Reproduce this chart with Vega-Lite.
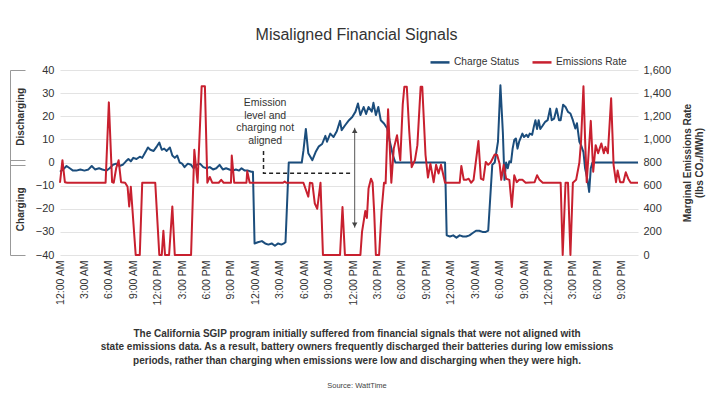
{
  "$schema": "https://vega.github.io/schema/vega-lite/v6.json",
  "width": 578,
  "height": 185,
  "padding": {"left": 9, "top": 26, "right": 5, "bottom": 5},
  "config": {"font": "Liberation Sans", "view": {"stroke": null}, "axis": {"labelColor": "#333", "titleColor": "#333"}},
  "title": {
    "text": ["The California SGIP program initially suffered from financial signals that were not aligned with", "state emissions data. As a result, battery owners frequently discharged their batteries during low emissions", "periods, rather than charging when emissions were low and discharging when they were high."],
    "subtitle": "Source: WattTime",
    "orient": "bottom", "anchor": "middle", "frame": "bounds",
    "fontSize": 10, "fontWeight": "bold", "lineHeight": 13.5, "color": "#333", "offset": 24,
    "subtitleFontSize": 7.5, "subtitleColor": "#444", "subtitlePadding": 16
  },
  "datasets": {
    "charge": [
      {"hour":0.0,"status":-4},{"hour":0.4,"status":-3},{"hour":0.8,"status":-1.5},{"hour":1.2,"status":-2.5},{"hour":1.6,"status":-3.5},{"hour":2.0,"status":-3.5},{"hour":2.5,"status":-3},{"hour":3.0,"status":-3.5},{"hour":3.5,"status":-3},{"hour":3.9,"status":-1.5},{"hour":4.3,"status":-3},{"hour":4.8,"status":-2.5},{"hour":5.2,"status":-3},{"hour":5.7,"status":-3.5},{"hour":6.1,"status":-2.5},{"hour":6.5,"status":-1},{"hour":6.9,"status":-0.5},{"hour":7.3,"status":-1.5},{"hour":7.7,"status":-1},{"hour":8.1,"status":0.5},{"hour":8.4,"status":1.5},{"hour":8.7,"status":0.5},{"hour":9.0,"status":2},{"hour":9.4,"status":1.5},{"hour":9.8,"status":2.5},{"hour":10.1,"status":2},{"hour":10.5,"status":4.5},{"hour":10.8,"status":6.5},{"hour":11.1,"status":5.5},{"hour":11.5,"status":5},{"hour":11.9,"status":7},{"hour":12.2,"status":8.6},{"hour":12.5,"status":5.5},{"hour":12.8,"status":6},{"hour":13.1,"status":5},{"hour":13.5,"status":6.5},{"hour":13.8,"status":3},{"hour":14.1,"status":2},{"hour":14.4,"status":3},{"hour":14.7,"status":0},{"hour":15.0,"status":-0.5},{"hour":15.3,"status":-2},{"hour":15.7,"status":-0.5},{"hour":16.1,"status":-1},{"hour":16.4,"status":-2.5},{"hour":16.8,"status":-1},{"hour":17.2,"status":-0.5},{"hour":17.6,"status":-2},{"hour":18.0,"status":-2.5},{"hour":18.4,"status":-2},{"hour":18.8,"status":-3},{"hour":19.2,"status":-2.5},{"hour":19.6,"status":-1},{"hour":20.0,"status":-3},{"hour":20.4,"status":-2.5},{"hour":20.8,"status":-3},{"hour":21.2,"status":-3.5},{"hour":21.6,"status":-3},{"hour":22.0,"status":-3.5},{"hour":22.3,"status":-2.5},{"hour":22.7,"status":-3.5},{"hour":23.1,"status":-3.5},{"hour":23.5,"status":-4},{"hour":23.7,"status":-4},
      {"hour":23.9,"status":-35},{"hour":24.3,"status":-34.5},{"hour":24.8,"status":-34},{"hour":25.2,"status":-35},{"hour":25.6,"status":-35.5},{"hour":26.0,"status":-35},{"hour":26.4,"status":-36},{"hour":26.8,"status":-35},{"hour":27.2,"status":-35.5},{"hour":27.5,"status":-35},{"hour":27.7,"status":-34.5},{"hour":28.1,"status":0},{"hour":29.7,"status":0},{"hour":29.9,"status":5},{"hour":30.2,"status":14.5},{"hour":30.5,"status":4},{"hour":31.0,"status":1},{"hour":31.4,"status":4.5},{"hour":31.8,"status":7},{"hour":32.2,"status":8},{"hour":32.6,"status":11.5},{"hour":32.8,"status":9},{"hour":33.2,"status":12.5},{"hour":33.6,"status":11},{"hour":34.0,"status":13.5},{"hour":34.4,"status":18},{"hour":34.6,"status":14},{"hour":35.0,"status":16},{"hour":35.5,"status":18.3},{"hour":35.9,"status":19.7},{"hour":36.3,"status":22},{"hour":36.6,"status":25.5},{"hour":36.9,"status":20.5},{"hour":37.3,"status":24},{"hour":37.6,"status":21},{"hour":37.9,"status":24},{"hour":38.3,"status":22},{"hour":38.5,"status":25.8},{"hour":38.8,"status":20.5},{"hour":39.1,"status":24},{"hour":39.4,"status":18.3},{"hour":39.8,"status":16.9},{"hour":40.2,"status":14.7},{"hour":40.5,"status":9.3},{"hour":40.9,"status":3},{"hour":41.2,"status":0},{"hour":47.3,"status":0},
      {"hour":47.5,"status":-31.5},{"hour":47.9,"status":-32},{"hour":48.3,"status":-31.5},{"hour":48.7,"status":-32.5},{"hour":49.1,"status":-31.5},{"hour":49.5,"status":-32},{"hour":49.9,"status":-32},{"hour":50.3,"status":-31.5},{"hour":50.7,"status":-30.5},{"hour":51.1,"status":-29.5},{"hour":51.5,"status":-29.5},{"hour":51.9,"status":-30},{"hour":52.3,"status":-30},{"hour":52.6,"status":-29.5},{"hour":53.1,"status":-1},{"hour":53.4,"status":0},{"hour":53.8,"status":9},{"hour":54.1,"status":33.4},{"hour":54.4,"status":13},{"hour":54.6,"status":-7.5},{"hour":54.8,"status":0},{"hour":55.0,"status":-2.5},{"hour":55.2,"status":0.5},{"hour":55.4,"status":0},{"hour":55.6,"status":6},{"hour":55.8,"status":9.7},{"hour":56.0,"status":10.4},{"hour":56.2,"status":6},{"hour":56.4,"status":9},{"hour":56.8,"status":12.5},{"hour":57.0,"status":11},{"hour":57.3,"status":12},{"hour":57.5,"status":11},{"hour":57.7,"status":12.5},{"hour":58.0,"status":12},{"hour":58.2,"status":15.4},{"hour":58.4,"status":18.3},{"hour":58.6,"status":14.5},{"hour":58.8,"status":18.3},{"hour":59.0,"status":14.5},{"hour":59.3,"status":16},{"hour":59.6,"status":17.6},{"hour":59.9,"status":18.3},{"hour":60.2,"status":23.3},{"hour":60.4,"status":18.3},{"hour":60.7,"status":19},{"hour":61.0,"status":23.3},{"hour":61.3,"status":18.3},{"hour":61.5,"status":18.3},{"hour":61.8,"status":25},{"hour":62.1,"status":24},{"hour":62.4,"status":21.9},{"hour":62.7,"status":21.2},{"hour":63.0,"status":18.3},{"hour":63.3,"status":14.7},{"hour":63.5,"status":17},{"hour":63.8,"status":8.9},{"hour":64.0,"status":7.5},{"hour":64.3,"status":4.5},{"hour":64.5,"status":-2.5},{"hour":64.8,"status":-7.5},{"hour":65.0,"status":-12.7},{"hour":65.2,"status":-2.5},{"hour":65.4,"status":0},{"hour":71.0,"status":0}
    ],
    "emis": [
      {"hour":0.0,"rate":625},{"hour":0.3,"rate":820},{"hour":0.6,"rate":630},{"hour":0.9,"rate":625},{"hour":5.6,"rate":625},{"hour":6.0,"rate":1320},{"hour":6.4,"rate":630},{"hour":6.6,"rate":625},{"hour":6.9,"rate":750},{"hour":7.2,"rate":820},{"hour":7.5,"rate":630},{"hour":8.0,"rate":625},{"hour":8.3,"rate":590},{"hour":8.5,"rate":420},{"hour":8.7,"rate":590},{"hour":9.3,"rate":0},{"hour":9.8,"rate":0},{"hour":10.1,"rate":625},{"hour":11.7,"rate":625},{"hour":12.2,"rate":0},{"hour":12.5,"rate":0},{"hour":12.7,"rate":210},{"hour":12.9,"rate":0},{"hour":13.4,"rate":0},{"hour":13.8,"rate":420},{"hour":14.1,"rate":0},{"hour":16.1,"rate":0},{"hour":16.5,"rate":910},{"hour":16.9,"rate":625},{"hour":17.4,"rate":1460},{"hour":17.8,"rate":1460},{"hour":18.1,"rate":625},{"hour":18.4,"rate":675},{"hour":18.7,"rate":625},{"hour":19.5,"rate":625},{"hour":19.8,"rate":650},{"hour":20.1,"rate":625},{"hour":21.0,"rate":625},{"hour":21.1,"rate":860},{"hour":21.4,"rate":625},{"hour":22.9,"rate":625},{"hour":23.0,"rate":725},{"hour":23.3,"rate":625},
      {"hour":27.4,"rate":625},{"hour":27.6,"rate":635},{"hour":27.8,"rate":625},{"hour":29.9,"rate":625},{"hour":30.5,"rate":505},{"hour":30.7,"rate":625},{"hour":31.0,"rate":620},{"hour":31.3,"rate":445},{"hour":31.6,"rate":400},{"hour":32.0,"rate":625},{"hour":32.3,"rate":0},{"hour":34.4,"rate":0},{"hour":34.7,"rate":415},{"hour":35.0,"rate":0},{"hour":36.9,"rate":0},{"hour":37.1,"rate":200},{"hour":37.5,"rate":380},{"hour":37.7,"rate":320},{"hour":37.9,"rate":575},{"hour":38.2,"rate":660},{"hour":38.4,"rate":625},{"hour":38.6,"rate":360},{"hour":38.8,"rate":0},{"hour":39.2,"rate":0},{"hour":39.5,"rate":380},{"hour":39.8,"rate":625},{"hour":40.0,"rate":620},{"hour":40.3,"rate":1260},{"hour":40.7,"rate":625},{"hour":41.0,"rate":920},{"hour":41.4,"rate":1035},{"hour":41.8,"rate":820},{"hour":42.1,"rate":1300},{"hour":42.3,"rate":1455},{"hour":42.6,"rate":1455},{"hour":42.9,"rate":1070},{"hour":43.2,"rate":760},{"hour":43.6,"rate":820},{"hour":43.9,"rate":950},{"hour":44.3,"rate":1455},{"hour":44.5,"rate":1455},{"hour":44.9,"rate":865},{"hour":45.2,"rate":670},{"hour":45.5,"rate":790},{"hour":45.9,"rate":630},{"hour":46.2,"rate":780},{"hour":46.5,"rate":705},{"hour":46.8,"rate":780},{"hour":47.3,"rate":625},
      {"hour":49.1,"rate":625},{"hour":49.3,"rate":770},{"hour":49.6,"rate":650},{"hour":49.9,"rate":650},{"hour":50.2,"rate":660},{"hour":50.5,"rate":625},{"hour":50.8,"rate":650},{"hour":51.4,"rate":985},{"hour":51.7,"rate":660},{"hour":52.0,"rate":650},{"hour":52.3,"rate":805},{"hour":52.6,"rate":780},{"hour":52.9,"rate":800},{"hour":53.4,"rate":870},{"hour":53.7,"rate":865},{"hour":54.0,"rate":790},{"hour":54.2,"rate":650},{"hour":54.5,"rate":780},{"hour":54.8,"rate":660},{"hour":55.2,"rate":650},{"hour":55.5,"rate":415},{"hour":55.8,"rate":690},{"hour":56.1,"rate":630},{"hour":56.4,"rate":650},{"hour":56.8,"rate":650},{"hour":57.2,"rate":625},{"hour":58.3,"rate":630},{"hour":58.6,"rate":690},{"hour":58.9,"rate":650},{"hour":59.3,"rate":625},{"hour":61.5,"rate":625},{"hour":61.75,"rate":0},{"hour":62.1,"rate":625},{"hour":62.4,"rate":625},{"hour":62.7,"rate":0},{"hour":63.0,"rate":625},{"hour":63.4,"rate":650},{"hour":63.8,"rate":800},{"hour":64.0,"rate":980},{"hour":64.3,"rate":1460},{"hour":64.5,"rate":1000},{"hour":64.7,"rate":630},{"hour":65.2,"rate":1160},{"hour":65.5,"rate":720},{"hour":65.8,"rate":950},{"hour":66.1,"rate":880},{"hour":66.5,"rate":965},{"hour":66.8,"rate":880},{"hour":67.0,"rate":935},{"hour":67.3,"rate":880},{"hour":67.7,"rate":1355},{"hour":68.0,"rate":780},{"hour":68.3,"rate":630},{"hour":68.5,"rate":730},{"hour":68.8,"rate":630},{"hour":69.2,"rate":630},{"hour":69.5,"rate":715},{"hour":69.8,"rate":660},{"hour":70.1,"rate":625},{"hour":71.0,"rate":625}
    ],
    "note": [{"hour": 25.2, "y": 28, "label": "Emission\nlevel and\ncharging not\naligned"}],
    "dash": [{"i": 1, "hour": 25, "y": 5}, {"i": 2, "hour": 25, "y": -4.7}, {"i": 3, "hour": 35.8, "y": -4.7}],
    "arrow": [{"hour": 36.2, "top": 15, "bottom": -28.2}],
    "heads": [{"hour": 36.2, "y": 13.8, "dir": "up"}, {"hour": 36.2, "y": -27, "dir": "down"}],
    "bracket": [{"v": -40}, {"v": 40}]
  },
  "layer": [
    {
      "data": {"name": "charge"},
      "mark": {"type": "line", "strokeWidth": 2, "strokeJoin": "round"},
      "encoding": {
        "x": {"field": "hour", "type": "quantitative", "scale": {"domain": [0, 71], "nice": false, "zero": false},
          "axis": {"values": [0,3,6,9,12,15,18,21,24,27,30,33,36,39,42,45,48,51,54,57,60,63,66,69],
            "labelExpr": "['12:00 AM','3:00 AM','6:00 AM','9:00 AM','12:00 PM','3:00 PM','6:00 PM','9:00 PM'][(datum.value/3)%8]",
            "labelAngle": -90, "labelFontSize": 10.5, "labelPadding": 5, "grid": false, "ticks": false, "domain": false, "title": null, "labelOverlap": false}},
        "y": {"field": "status", "type": "quantitative", "scale": {"domain": [-40, 40], "nice": false},
          "axis": {"values": [-40,-30,-20,-10,0,10,20,30,40], "grid": true, "gridColor": "#e3e3e3", "ticks": false, "domain": false, "title": null, "labelFontSize": 11, "labelPadding": 6}},
        "color": {"datum": "Charge Status", "type": "nominal",
          "scale": {"domain": ["Charge Status", "Emissions Rate"], "range": ["#1b4d7c", "#c8202f"]},
          "legend": {"orient": "none", "legendX": 369, "legendY": -19, "direction": "horizontal", "title": null, "symbolType": "stroke", "symbolStrokeWidth": 2.5, "symbolSize": 361, "labelFontSize": 10.2, "labelOffset": 3, "labelColor": "#333", "columnPadding": 7}}
      }
    },
    {
      "data": {"name": "emis"},
      "mark": {"type": "line", "strokeWidth": 2, "strokeJoin": "round"},
      "encoding": {
        "x": {"field": "hour", "type": "quantitative", "axis": null},
        "y": {"field": "rate", "type": "quantitative", "scale": {"domain": [0, 1600], "nice": false},
          "axis": {"orient": "right", "values": [0,200,400,600,800,1000,1200,1400,1600], "format": ",.0f", "grid": false, "ticks": false, "domain": false, "labelFontSize": 11, "labelPadding": 5,
            "title": ["Marginal Emissions Rate", "(lbs CO₂/MWh)"], "titleFontSize": 10, "titleFontWeight": "bold", "titleAngle": -90, "titlePadding": 10}},
        "color": {"datum": "Emissions Rate", "type": "nominal"}
      }
    },
    {
      "data": {"name": "bracket"},
      "mark": {"type": "point", "opacity": 0},
      "encoding": {
        "y": {"field": "v", "type": "quantitative", "scale": {"domain": [-40, 40], "nice": false},
          "axis": {"orient": "left", "offset": 50, "values": [-40, -20, -1, 1, 20, 40],
            "labelExpr": "datum.value == 20 ? 'Discharging' : datum.value == -20 ? 'Charging' : ''",
            "tickSize": -15, "tickOpacity": {"condition": {"test": "abs(datum.value) == 20", "value": 0}, "value": 1},
            "tickColor": "#999", "domainColor": "#999", "grid": false, "labelAngle": -90, "labelAlign": "center", "labelBaseline": "middle",
            "labelPadding": 5, "labelFontWeight": "bold", "labelFontSize": 10, "labelColor": "#333", "title": null, "labelOverlap": false}}
      }
    },
    {
      "data": {"name": "note"},
      "mark": {"type": "text", "lineBreak": "\n", "fontSize": 10.5, "lineHeight": 12.8, "baseline": "top", "align": "center", "color": "#333"},
      "encoding": {
        "x": {"field": "hour", "type": "quantitative",
          "axis": {"orient": "top", "title": "Misaligned Financial Signals", "titleX": 296, "labels": false, "ticks": false, "domain": false, "grid": false, "titleFontSize": 16, "titleFontWeight": "normal", "titlePadding": 28, "titleColor": "#333"}},
        "y": {"field": "y", "type": "quantitative", "scale": {"domain": [-40, 40], "nice": false}, "axis": null},
        "text": {"field": "label"}
      }
    },
    {
      "data": {"name": "dash"},
      "mark": {"type": "line", "strokeDash": [4, 3], "strokeWidth": 1.5, "color": "#222"},
      "encoding": {
        "x": {"field": "hour", "type": "quantitative", "axis": null},
        "y": {"field": "y", "type": "quantitative", "scale": {"domain": [-40, 40], "nice": false}, "axis": null},
        "order": {"field": "i"}
      }
    },
    {
      "data": {"name": "arrow"},
      "mark": {"type": "rule", "strokeWidth": 1, "color": "#555"},
      "encoding": {
        "x": {"field": "hour", "type": "quantitative", "axis": null},
        "y": {"field": "top", "type": "quantitative", "scale": {"domain": [-40, 40], "nice": false}, "axis": null},
        "y2": {"field": "bottom"}
      }
    },
    {
      "data": {"name": "heads"},
      "mark": {"type": "point", "filled": true, "size": 30, "opacity": 1, "color": "#444"},
      "encoding": {
        "x": {"field": "hour", "type": "quantitative", "axis": null},
        "y": {"field": "y", "type": "quantitative", "scale": {"domain": [-40, 40], "nice": false}, "axis": null},
        "shape": {"field": "dir", "type": "nominal", "scale": {"domain": ["up", "down"], "range": ["triangle-up", "triangle-down"]}, "legend": null}
      }
    }
  ],
  "resolve": {"scale": {"y": "independent"}, "axis": {"x": "independent", "y": "independent"}}
}
